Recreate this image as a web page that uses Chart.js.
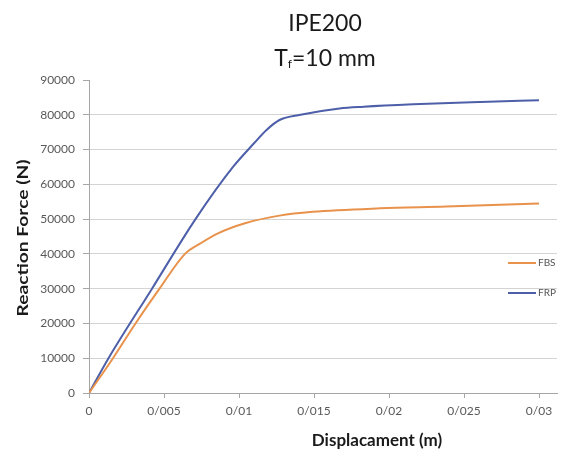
<!DOCTYPE html>
<html>
<head>
<meta charset="utf-8">
<script src="https://cdn.jsdelivr.net/npm/chart.js@4.4.1/dist/chart.umd.min.js"></script>
<style>
    html, body { margin: 0; padding: 0; background: #fff; }
    #wrap { position: relative; width: 561px; height: 453px; }
    #title {
        position: absolute; left: 225px; width: 200px; top: 5px;
        text-align: center; font-family: Lato, sans-serif; font-size: 23px;
        color: #1a1a1a; line-height: 35px;
    }
    #title sub { font-size: 12px; vertical-align: -2px; }
</style>
</head>
<body>
<div id="wrap">
    <canvas id="chart" width="561" height="453"></canvas>
    <div id="title">IPE200<br>T<sub>f</sub>=10 mm</div>
</div>
<script>

const frpDisp  = [0, 0.0013, 0.0042, 0.0071, 0.0096, 0.011, 0.0118, 0.0127, 0.0141, 0.0167, 0.0183, 0.0216, 0.0261, 0.03];
const frpForce = [0, 10000, 30000, 50000, 65000, 71800, 75500, 78500, 80000, 81800, 82300, 83000, 83700, 84200];

const fbsDisp  = [0, 0.0016, 0.0031, 0.0047, 0.0064, 0.0075, 0.0086, 0.0104, 0.0127, 0.0149, 0.0194, 0.0238, 0.03];
const fbsForce = [0, 10000, 20000, 30000, 40000, 43200, 45900, 48800, 51000, 52100, 53100, 53600, 54500];

const xTickLabels = ['0', '0/005', '0/01', '0/015', '0/02', '0/025', '0/03'];
const seriesNames = ['FBS', 'FRP'];
const seriesColors = ['#e8924c', '#4d5fa8'];

function toPoints(xs, ys) {
    return xs.map((x, i) => ({ x: x, y: ys[i] }));
}

// legend + axis titles drawn by hand to sit where the original puts them
const extras = {
    id: 'extras',
    afterDraw(chart) {
        const ctx = chart.ctx;
        ctx.save();
        const rows = [263, 293];
        chart.data.datasets.forEach((ds, i) => {
            ctx.strokeStyle = ds.borderColor;
            ctx.lineWidth = 2;
            ctx.beginPath();
            ctx.moveTo(508, rows[i]);
            ctx.lineTo(536, rows[i]);
            ctx.stroke();
            ctx.fillStyle = '#555';
            ctx.font = '10px Lato';
            ctx.textBaseline = 'middle';
            ctx.fillText(ds.label, 538, rows[i]);
        });
        ctx.fillStyle = '#1a1a1a';
        ctx.font = 'bold 17px Lato';
        ctx.textAlign = 'center';
        ctx.textBaseline = 'middle';
        ctx.fillText('Displacament (m)', 377, 441);

        ctx.translate(23, 238);
        ctx.rotate(-Math.PI / 2);
        ctx.scale(1.28, 1);
        ctx.font = 'bold 15px Lato';
        ctx.fillText('Reaction Force (N)', 0, 0);
        ctx.restore();
    }
};

new Chart(document.getElementById('chart'), {
    type: 'line',
    data: {
        datasets: [{
            label: seriesNames[0],
            data: toPoints(fbsDisp, fbsForce),
            borderColor: seriesColors[0],
            borderWidth: 2,
            pointRadius: 0,
            cubicInterpolationMode: 'monotone',
            fill: false
        }, {
            label: seriesNames[1],
            data: toPoints(frpDisp, frpForce),
            borderColor: seriesColors[1],
            borderWidth: 2,
            pointRadius: 0,
            cubicInterpolationMode: 'monotone',
            fill: false
        }]
    },
    options: {
        responsive: false,
        animation: false,
        layout: { padding: { top: 80, right: 4, left: 0, bottom: 0 } },
        plugins: {
            legend: { display: false },
            tooltip: { enabled: false }
        },
        scales: {
            x: {
                type: 'linear',
                min: 0,
                max: 0.0312,
                afterFit: s => { s.height = 60; },
                border: { color: '#a6a6a6' },
                grid: { drawOnChartArea: false, tickLength: 5, color: '#a6a6a6' },
                ticks: {
                    stepSize: 0.005,
                    includeBounds: false,
                    maxRotation: 0,
                    padding: 6,
                    color: '#595959',
                    font: { family: 'Lato', size: 12 },
                    callback: (v, i) => xTickLabels[i]
                }
            },
            y: {
                min: 0,
                max: 90000,
                afterFit: s => { s.width = 89; },
                border: { color: '#a6a6a6' },
                grid: {
                    tickLength: 6,
                    color: c => c.tick && c.tick.value === 90000 ? 'rgba(0,0,0,0)' : '#d4d4d4',
                    tickColor: '#a6a6a6'
                },
                ticks: {
                    stepSize: 10000,
                    padding: 8,
                    color: '#595959',
                    font: { family: 'Lato', size: 12 },
                    callback: v => String(v)
                }
            }
        }
    },
    plugins: [extras]
});
</script>
</body>
</html>
